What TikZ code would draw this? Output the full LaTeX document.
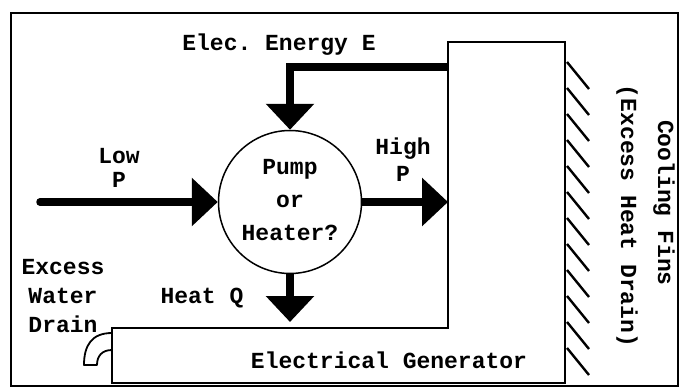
\documentclass[tikz,border=0pt]{standalone}
\usepackage{fontspec}
\setmonofont{Liberation Mono}
\usepackage{tikz}
\usetikzlibrary{arrows.meta,positioning,calc}

\begin{document}
\begin{tikzpicture}[
    x=1pt, y=-1pt,
    lbl/.style={font=\fontsize{23}{28}\selectfont\ttfamily\bfseries, align=center, inner sep=0pt},
    flow/.style={line width=7.5pt, -{Triangle[length=26pt,width=47pt]}},
    wall/.style={line width=2pt},
    fin/.style={line width=2.4pt}
]
\useasboundingbox (0,0) rectangle (679,388);

% Frame
\draw[wall] (11,13) rectangle (678,386);

% Generator (L-shaped block) and cooling fins
\draw[wall] (112,328) -- (448,328) -- (448,42) -- (565,42) -- (565,383) -- (112,383) -- cycle;
\foreach \i in {0,...,11}
    \draw[fin] (567,62+26*\i) -- (589,89+26*\i);
\node[lbl] (gen-label) at (389,360) {Electrical Generator};

% Drain pipe
\draw[line width=1.8pt, line join=round] (112,333) .. controls (92,333) and (84,345) .. (84,365)
    -- (97,365) .. controls (97,356) and (102,350) .. (112,350);

% Pump or heater
\node[circle, draw, line width=1.5pt, minimum size=143pt, inner sep=0pt] (pump) at (290,202) {};
\node[lbl] (pump-label) at (290,200) {Pump\\[5pt]or\\[5pt]Heater?};

% Connectors
\coordinate (lowp-in) at (40,202);
\coordinate (highp-out) at (448,202);
\coordinate (elec-in) at (448,67);
\coordinate (heat-out) at (290,322);

\draw[flow, line cap=round] (lowp-in) -- (pump.west);
\draw[flow] (pump.east) -- (highp-out);
\draw[flow] (elec-in) -| (pump.north);
\draw[flow] (pump.south) -- (heat-out);

% Labels
\node[lbl] (elec-label) at (279,45) {Elec. Energy E};
\node[lbl] (lowp-label) at (119,168) {Low\\[-4pt]P};
\node[lbl] (highp-label) at (403,160) {High\\[-1pt]P};
\node[lbl] (heat-label) at (202,298) {Heat Q};
\node[lbl] (drain-label) at (63,296) {Excess\\[1pt]Water\\[1pt]Drain};
\node[lbl, rotate=-90] (fins-label) at (664,203) {Cooling Fins};
\node[lbl, rotate=-90] (fins-note) at (627,216) {(Excess Heat Drain)};

\end{tikzpicture}
\end{document}
